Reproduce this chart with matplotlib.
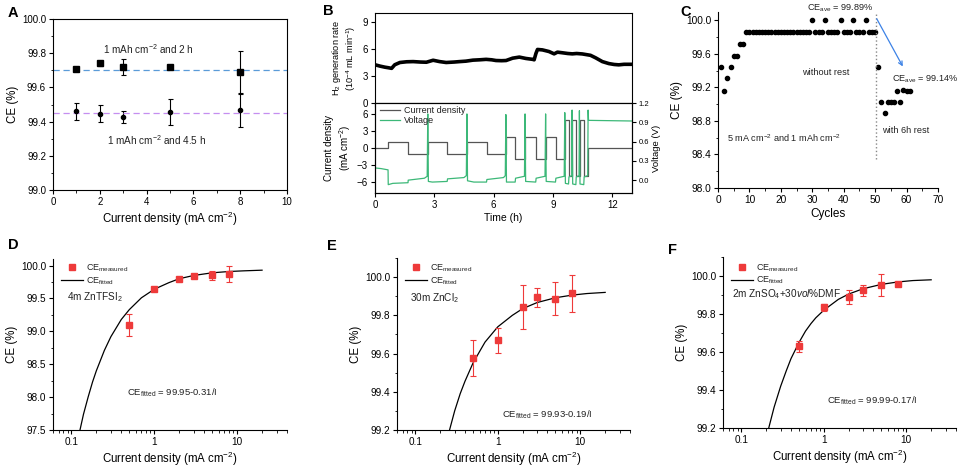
import matplotlib
matplotlib.use('Agg')
import matplotlib.pyplot as plt
from matplotlib.ticker import MultipleLocator, FormatStrFormatter, LogLocator, NullFormatter, FixedLocator, FixedFormatter

plt.rcParams['font.family'] = ['Liberation Sans', 'DejaVu Sans']
plt.rcParams['mathtext.fontset'] = 'custom'
plt.rcParams['mathtext.rm'] = 'Liberation Sans'
plt.rcParams['mathtext.it'] = 'Liberation Sans:italic'
plt.rcParams['mathtext.bf'] = 'Liberation Sans:bold'
plt.rcParams['font.size'] = 7
plt.rcParams['axes.linewidth'] = 0.8
plt.rcParams['xtick.labelsize'] = 7
plt.rcParams['ytick.labelsize'] = 7
plt.rcParams['xtick.major.size'] = 3
plt.rcParams['ytick.major.size'] = 3
plt.rcParams['xtick.minor.size'] = 1.8
plt.rcParams['ytick.minor.size'] = 1.8
plt.rcParams['xtick.major.pad'] = 2
plt.rcParams['ytick.major.pad'] = 2
plt.rcParams['axes.labelsize'] = 8.3
plt.rcParams['axes.labelpad'] = 2
plt.rcParams['text.color'] = '#222222'

# ---- data: panel A ----
a_x = [1, 2, 3, 5, 8]
a_2h = [99.71, 99.74, 99.72, 99.72, 99.69]
a_2h_err = [0.012, 0.015, 0.045, 0.006, 0.125]
a_45h = [99.46, 99.445, 99.425, 99.455, 99.465]
a_45h_err = [0.05, 0.05, 0.035, 0.077, 0.097]
a_ref_2h = 99.70
a_ref_45h = 99.45

# ---- data: panel B ----
h2_t = [0, 0.25, 0.5, 0.67, 0.84, 1.0, 1.26, 1.6, 1.93, 2.3, 2.6, 2.94, 3.27, 3.6, 4.0,
        4.28, 4.6, 4.95, 5.3, 5.62, 5.9, 6.12, 6.4, 6.63, 6.96, 7.3, 7.63, 7.97, 8.05,
        8.14, 8.22, 8.47, 8.8, 9.06, 9.23, 9.48, 9.75, 9.98, 10.2, 10.49, 10.9, 11.16,
        11.5, 11.83, 12.1, 12.33, 12.6, 13.0]
h2_rate = [4.25, 4.1, 3.98, 3.92, 3.85, 4.25, 4.5, 4.58, 4.6, 4.55, 4.53, 4.75, 4.6, 4.5, 4.55,
           4.6, 4.65, 4.76, 4.8, 4.85, 4.8, 4.72, 4.7, 4.72, 4.98, 5.1, 4.95, 4.85, 4.8,
           5.5, 5.95, 5.9, 5.72, 5.46, 5.65, 5.58, 5.5, 5.46, 5.5, 5.45, 5.3, 5.02,
           4.6, 4.38, 4.28, 4.24, 4.3, 4.3]

cur_t = [0, 0.67, 1.68, 2.68, 3.66, 4.66, 5.65, 6.63, 7.10, 7.60, 8.14, 8.64, 9.14, 9.61,
         9.80, 9.98, 10.17, 10.35, 10.57, 10.79, 13.0]
cur_j = [0, 1, -1, 1, -1, 1, -1, 2, -2, 2, -2, 2, -2, 5, -5, 5, -5, 5, -5, 0, 0]

volt_t = [0, 0.3, 0.66,
          0.67, 0.9, 1.67,
          1.68, 2.5, 2.64, 2.67,
          2.70, 2.9, 3.65,
          3.67, 4.5, 4.62, 4.65,
          4.68, 5.0, 5.64,
          5.66, 6.5, 6.59, 6.62,
          6.65, 7.09,
          7.11, 7.56, 7.59,
          7.62, 8.13,
          8.15, 8.60, 8.63,
          8.66, 9.13,
          9.15, 9.57, 9.60,
          9.63, 9.79,
          9.81, 9.95, 9.97,
          10.0, 10.16,
          10.18, 10.32, 10.34,
          10.37, 10.56,
          10.58, 10.76, 10.78,
          10.80, 13.0]
volt_v = [0.19, 0.18, 0.16,
          -0.07, -0.05, -0.04,
          0.0, 0.03, 0.06, 1.03,
          -0.02, -0.03, -0.02,
          0.02, 0.04, 0.07, 1.03,
          -0.01, -0.03, -0.03,
          0.01, 0.04, 0.07, 1.02,
          -0.03, -0.03,
          0.03, 0.06, 1.03,
          -0.02, -0.03,
          0.03, 0.06, 1.03,
          -0.02, -0.03,
          0.03, 0.06, 1.05,
          -0.05, -0.06,
          0.05, 0.07, 1.09,
          -0.06, -0.07,
          0.05, 0.07, 1.08,
          -0.06, -0.07,
          0.05, 0.07, 1.09,
          0.93, 0.92]

# ---- data: panel C ----
c_cycle = list(range(1, 51)) + list(range(51, 62))
c_ce = [99.44, 99.16, 99.31, 99.44, 99.58, 99.58, 99.72, 99.72] + [99.86] * 21 + \
       [100.0, 99.86, 99.86, 99.86, 100.0, 99.86, 99.86, 99.86, 99.86, 100.0,
        99.86, 99.86, 99.86, 100.0, 99.86, 99.86, 99.86, 100.0, 99.86, 99.86, 99.86] + \
       [99.44, 99.03, 98.89, 99.03, 99.03, 99.03, 99.16, 99.03, 99.17, 99.16, 99.16]
c_rest_split = 50.3

# ---- data: panels D, E, F ----
j_meas = [0.5, 1, 2, 3, 5, 8]
d_ce = [99.10, 99.64, 99.79, 99.84, 99.85, 99.87]
d_err = [0.17, 0.02, 0.02, 0.03, 0.075, 0.12]
e_ce = [99.575, 99.67, 99.845, 99.895, 99.887, 99.915]
e_err = [0.095, 0.065, 0.115, 0.05, 0.087, 0.098]
f_ce = [99.63, 99.835, 99.89, 99.925, 99.955, 99.96]
f_err = [0.03, 0.018, 0.035, 0.03, 0.058, 0.008]

d_fit_x = [0.127, 0.14, 0.16, 0.18, 0.2, 0.25, 0.3, 0.4, 0.5, 0.7, 1, 1.5, 2, 3, 5, 8, 12, 20]
d_fit_y = [97.50, 97.74, 98.01, 98.23, 98.40, 98.71, 98.92, 99.18, 99.33, 99.51, 99.64,
           99.74, 99.80, 99.85, 99.89, 99.91, 99.92, 99.93]
e_fit_x = [0.26, 0.3, 0.35, 0.4, 0.5, 0.6, 0.7, 0.8, 1, 1.5, 2, 3, 5, 8, 12, 20]
e_fit_y = [99.20, 99.30, 99.39, 99.455, 99.55, 99.61, 99.66, 99.69, 99.74, 99.80, 99.835,
           99.867, 99.892, 99.906, 99.914, 99.92]
f_fit_x = [0.215, 0.25, 0.3, 0.35, 0.4, 0.5, 0.6, 0.7, 0.8, 1, 1.5, 2, 3, 5, 8, 12, 20]
f_fit_y = [99.20, 99.31, 99.42, 99.50, 99.565, 99.65, 99.71, 99.75, 99.78, 99.82, 99.877,
           99.905, 99.933, 99.956, 99.969, 99.976, 99.98]

RED = '#ee3a3a'
GREEN = '#3cb878'

fig = plt.figure(figsize=(9.6, 4.66), dpi=100)


def px_axes(left, top, right, bottom):
    return fig.add_axes([left / 960, 1 - bottom / 466, (right - left) / 960, (bottom - top) / 466])


def open_style(ax):
    ax.spines['top'].set_visible(False)
    ax.spines['right'].set_visible(False)


# ---------------- A ----------------
ax = px_axes(53, 19, 287, 190)
ax.errorbar(a_x, a_2h, yerr=a_2h_err, fmt='s', color='black', ms=3.8, capsize=1.8,
            elinewidth=0.8, capthick=0.8)
ax.errorbar(a_x, a_45h, yerr=a_45h_err, fmt='o', color='black', ms=3.0, capsize=1.8,
            elinewidth=0.8, capthick=0.8)
ax.axhline(a_ref_2h, color='#5b9bd8', ls=(0, (5, 3)), lw=0.9)
ax.axhline(a_ref_45h, color='#c58ef0', ls=(0, (5, 3)), lw=0.9)
ax.set_xlim(0, 10)
ax.set_ylim(99.0, 100.0)
ax.xaxis.set_major_locator(MultipleLocator(2))
ax.xaxis.set_minor_locator(MultipleLocator(1))
ax.yaxis.set_major_locator(MultipleLocator(0.2))
ax.yaxis.set_minor_locator(MultipleLocator(0.1))
ax.yaxis.set_major_formatter(FormatStrFormatter('%.1f'))
ax.set_xlabel('Current density (mA cm$^{-2}$)')
ax.set_ylabel('CE (%)')
ax.text(4.1, 99.825, '1 mAh cm$^{-2}$ and 2 h', ha='center', va='center', fontsize=7.2)
ax.text(4.45, 99.29, '1 mAh cm$^{-2}$ and 4.5 h', ha='center', va='center', fontsize=7.2)

# ---------------- B ----------------
axb1 = px_axes(375, 13, 632, 103)
axb1.plot(h2_t, h2_rate, color='black', lw=2.6)
axb1.set_xlim(0, 13)
axb1.set_ylim(0, 10)
axb1.yaxis.set_major_locator(MultipleLocator(3))
axb1.xaxis.set_major_locator(MultipleLocator(3))
axb1.tick_params(labelbottom=False)
axb1.set_ylabel('H$_2$ generation rate\n(10$^{-4}$ mL min$^{-1}$)', fontsize=6.6, labelpad=3)

axb2 = px_axes(375, 103, 632, 193)
axb2r = axb2.twinx()
l1, = axb2.plot(cur_t, cur_j, color='#555555', lw=0.9, drawstyle='steps-post', label='Current density')
l2, = axb2r.plot(volt_t, volt_v, color=GREEN, lw=0.9, label='Voltage')
axb2.set_xlim(0, 13)
axb2.set_ylim(-8, 8)
axb2r.set_ylim(-0.2, 1.2)
axb2.xaxis.set_major_locator(MultipleLocator(3))
axb2.yaxis.set_major_locator(MultipleLocator(3))
axb2r.yaxis.set_major_locator(MultipleLocator(0.3))
axb2r.yaxis.set_major_formatter(FormatStrFormatter('%.1f'))
axb2r.tick_params(labelsize=5.5)
axb2.set_xlabel('Time (h)', fontsize=7.5)
axb2.set_ylabel('Current density\n(mA cm$^{-2}$)', fontsize=7, labelpad=3)
axb2r.set_ylabel('Voltage (V)', fontsize=6.8)
axb2r.legend(handles=[l1, l2], loc='upper left', bbox_to_anchor=(0.0, 1.03), frameon=False,
             fontsize=6.5, handlelength=2.2, handletextpad=0.4, labelspacing=0.15, borderaxespad=0.2)

# ---------------- C ----------------
ax = px_axes(718, 12, 938, 188)
open_style(ax)
ax.plot(c_cycle, c_ce, 'o', color='black', ms=3.0, clip_on=False)
ax.plot([c_rest_split, c_rest_split], [98.35, 100.1], color='#888888', ls=':', lw=1.0)
ax.annotate('', xy=(58.8, 99.45), xytext=(50.5, 100.02),
            arrowprops=dict(arrowstyle='->', color='#3c82e6', lw=0.9, shrinkA=0, shrinkB=0))
ax.set_xlim(0, 70)
ax.set_ylim(98.0, 100.1)
ax.xaxis.set_major_locator(MultipleLocator(10))
ax.xaxis.set_minor_locator(MultipleLocator(5))
ax.yaxis.set_major_locator(FixedLocator([98.0, 98.4, 98.8, 99.2, 99.6, 100.0]))
ax.yaxis.set_minor_locator(FixedLocator([98.2, 98.6, 99.0, 99.4, 99.8]))
ax.yaxis.set_major_formatter(FormatStrFormatter('%.1f'))
ax.tick_params(labelsize=7.3)
ax.set_xlabel('Cycles', fontsize=8.5)
ax.set_ylabel('CE (%)', fontsize=8.5)
ax.text(38.8, 100.14, 'CE$_{\\mathrm{ave}}$ = 99.89%', ha='center', va='center', fontsize=6.6, clip_on=False)
ax.text(34.4, 99.38, 'without rest', ha='center', va='center', fontsize=6.6)
ax.text(55.4, 99.30, 'CE$_{\\mathrm{ave}}$ = 99.14%', ha='left', va='center', fontsize=6.6, clip_on=False)
ax.text(52.2, 98.69, 'with 6h rest', ha='left', va='center', fontsize=6.6)
ax.text(2.9, 98.60, '5 mA cm$^{-2}$ and 1 mAh cm$^{-2}$', ha='left', va='center', fontsize=6.6)


# ---------------- D, E, F ----------------
def ce_panel(rect, ce, err, fit_x, fit_y, ylim, ymaj, ymin, label, label_pos, eq, eq_pos, leg_y):
    ax = px_axes(*rect)
    open_style(ax)
    fit_line, = ax.plot(fit_x, fit_y, color='black', lw=0.9)
    ax.errorbar(j_meas, ce, yerr=err, fmt='none', ecolor=RED, capsize=2.0, elinewidth=0.8,
                capthick=0.8)
    meas, = ax.plot(j_meas, ce, 's', color=RED, ms=4.0, ls='none')
    ax.set_xscale('log')
    ax.set_xlim(0.06, 40)
    ax.set_ylim(*ylim)
    ax.xaxis.set_major_locator(FixedLocator([0.1, 1, 10]))
    ax.xaxis.set_major_formatter(FixedFormatter(['0.1', '1', '10']))
    ax.xaxis.set_minor_locator(LogLocator(base=10, subs=range(2, 10)))
    ax.xaxis.set_minor_formatter(NullFormatter())
    ax.yaxis.set_major_locator(MultipleLocator(ymaj))
    ax.yaxis.set_minor_locator(MultipleLocator(ymin))
    ax.yaxis.set_major_formatter(FormatStrFormatter('%.1f'))
    ax.tick_params(labelsize=7.2)
    ax.set_xlabel('Current density (mA cm$^{-2}$)')
    ax.set_ylabel('CE (%)')
    ax.legend([meas, fit_line], ['CE$_{\\mathrm{measured}}$', 'CE$_{\\mathrm{fitted}}$'],
              loc='upper left', bbox_to_anchor=(0.02, leg_y), frameon=False,
              fontsize=6.5, handlelength=2.4, handletextpad=0.3, labelspacing=0.12, borderaxespad=0)
    ax.text(label_pos[0], label_pos[1], label, transform=ax.transAxes, ha='left', va='center', fontsize=7.2)
    ax.text(eq_pos[0], eq_pos[1], eq, transform=ax.transAxes, ha='left', va='center', fontsize=6.8)
    return ax


ce_panel((53, 259, 287, 430), d_ce, d_err, d_fit_x, d_fit_y, (97.5, 100.1), 0.5, 0.25,
         '4m ZnTFSI$_2$', (0.06, 0.775), 'CE$_{\\mathrm{fitted}}$ = 99.95-0.31/I', (0.316, 0.216), 1.0)
ce_panel((397, 258, 630, 430), e_ce, e_err, e_fit_x, e_fit_y, (99.2, 100.1), 0.2, 0.1,
         '30m ZnCl$_2$', (0.056, 0.765), 'CE$_{\\mathrm{fitted}}$ = 99.93-0.19/I', (0.45, 0.087), 0.995)
ce_panel((723, 257, 956, 428), f_ce, f_err, f_fit_x, f_fit_y, (99.2, 100.1), 0.2, 0.1,
         '2m ZnSO$_4$+30$\\mathit{vol}$%DMF', (0.04, 0.785), 'CE$_{\\mathrm{fitted}}$ = 99.99-0.17/I',
         (0.446, 0.16), 0.99)

# panel letters
for letter, x, y in [('A', 8, 13), ('B', 323, 11), ('C', 680, 12), ('D', 8, 245), ('E', 327, 246), ('F', 668, 250)]:
    fig.text(x / 960, 1 - y / 466, letter, fontsize=10.5, fontweight='bold', ha='left', va='center',
             color='black')

fig.savefig('out.png', dpi=100)
